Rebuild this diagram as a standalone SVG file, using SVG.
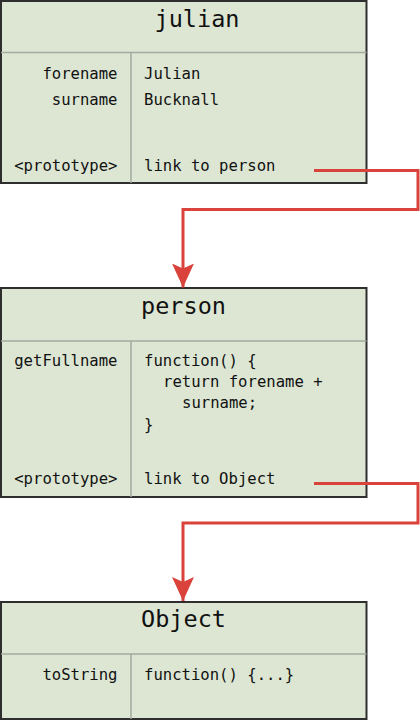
<svg xmlns="http://www.w3.org/2000/svg" width="420" height="720" viewBox="0 0 420 720">
<style>
.box{fill:#dce6d3;stroke:#2e2e2e;stroke-width:2}
.div{stroke:#a3aaa0;stroke-width:1.5;fill:none}
.t{font-family:"DejaVu Sans Mono","Liberation Mono",monospace;fill:#111}
.title{font-size:23.5px;text-anchor:middle}
.k{font-size:15.6px;text-anchor:end}
.v{font-size:15.6px}
.conn{fill:none;stroke:#d9433b;stroke-width:3}
</style>
<defs>
<marker id="ah" markerUnits="userSpaceOnUse" markerWidth="26" markerHeight="22" viewBox="0 0 26 22" refX="24" refY="11" orient="auto">
<path d="M0,0 L5,11 L0,22 L24,11 Z" fill="#d9433b"/>
</marker>
</defs>
<rect width="420" height="720" fill="#fff"/>
<g id="julian">
<rect class="box" x="1" y="1" width="365.5" height="182"/>
<line class="div" x1="1" y1="52.5" x2="366.5" y2="52.5"/>
<line class="div" x1="131" y1="52.5" x2="131" y2="183"/>
<text class="t title" x="197" y="27">julian</text>
<text class="t k" x="117.5" y="79">forename</text>
<text class="t v" x="144" y="79">Julian</text>
<text class="t k" x="117.5" y="105">surname</text>
<text class="t v" x="144" y="105">Bucknall</text>
<text class="t k" x="117.5" y="170.5">&lt;prototype&gt;</text>
<text class="t v" x="144" y="170.5">link to person</text>
</g>
<g id="person">
<rect class="box" x="1" y="288" width="365.5" height="209"/>
<line class="div" x1="1" y1="341" x2="366.5" y2="341"/>
<line class="div" x1="131" y1="341" x2="131" y2="497"/>
<text class="t title" x="183.5" y="314">person</text>
<text class="t k" x="117.5" y="366">getFullname</text>
<text class="t v" x="144" y="366">function() {</text>
<text class="t v" x="163" y="387">return forename +</text>
<text class="t v" x="182" y="408">surname;</text>
<text class="t v" x="144" y="430">}</text>
<text class="t k" x="117.5" y="484">&lt;prototype&gt;</text>
<text class="t v" x="144" y="484">link to Object</text>
</g>
<g id="Object">
<rect class="box" x="1" y="602" width="365.5" height="117"/>
<line class="div" x1="1" y1="654" x2="366.5" y2="654"/>
<line class="div" x1="131" y1="654" x2="131" y2="719"/>
<text class="t title" x="183.5" y="627">Object</text>
<text class="t k" x="117.5" y="680">toString</text>
<text class="t v" x="144" y="680">function() {...}</text>
</g>
<g id="connectors">
<path class="conn" d="M314,170.5 H418 V209.5 H183 V287.5" marker-end="url(#ah)"/>
<path class="conn" d="M314,483.5 H418 V523 H183 V601" marker-end="url(#ah)"/>
</g>
</svg>
